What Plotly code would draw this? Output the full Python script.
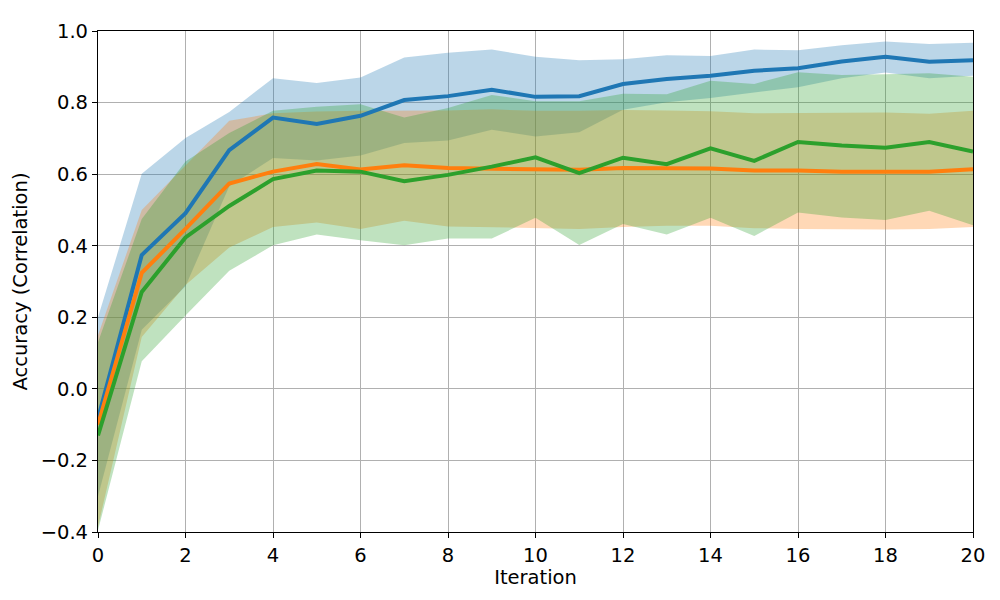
import plotly.graph_objects as go

iterations = list(range(21))

blue_mean = [-0.083, 0.374, 0.491, 0.667, 0.758, 0.740, 0.763, 0.807, 0.818, 0.836, 0.816,
             0.818, 0.852, 0.866, 0.875, 0.889, 0.896, 0.915, 0.928, 0.914, 0.918]
blue_upper = [0.20, 0.601, 0.701, 0.774, 0.868, 0.855, 0.870, 0.926, 0.939, 0.948, 0.928,
              0.918, 0.921, 0.932, 0.930, 0.948, 0.946, 0.960, 0.971, 0.964, 0.967]
blue_lower = [-0.30, 0.165, 0.287, 0.566, 0.645, 0.638, 0.652, 0.687, 0.694, 0.724, 0.705,
              0.717, 0.780, 0.801, 0.813, 0.828, 0.843, 0.868, 0.884, 0.868, 0.875]

orange_mean = [-0.100, 0.324, 0.447, 0.574, 0.607, 0.628, 0.613, 0.625, 0.617, 0.615, 0.614,
               0.612, 0.617, 0.617, 0.616, 0.610, 0.610, 0.607, 0.607, 0.607, 0.614]
orange_upper = [0.15, 0.500, 0.624, 0.749, 0.770, 0.775, 0.777, 0.777, 0.778, 0.781, 0.777,
                0.777, 0.779, 0.778, 0.776, 0.770, 0.771, 0.771, 0.772, 0.769, 0.777]
orange_lower = [-0.385, 0.145, 0.290, 0.395, 0.452, 0.465, 0.447, 0.470, 0.454, 0.452, 0.449,
                0.447, 0.452, 0.456, 0.456, 0.449, 0.447, 0.446, 0.445, 0.447, 0.452]

green_mean = [-0.130, 0.271, 0.423, 0.511, 0.586, 0.610, 0.607, 0.580, 0.598, 0.621, 0.647,
              0.603, 0.646, 0.628, 0.672, 0.637, 0.690, 0.680, 0.674, 0.690, 0.663]
green_upper = [0.13, 0.475, 0.635, 0.715, 0.777, 0.788, 0.795, 0.758, 0.785, 0.821, 0.804,
               0.804, 0.825, 0.823, 0.861, 0.852, 0.885, 0.877, 0.879, 0.882, 0.872]
green_lower = [-0.395, 0.077, 0.205, 0.330, 0.401, 0.431, 0.415, 0.401, 0.420, 0.420, 0.478,
               0.402, 0.461, 0.431, 0.478, 0.427, 0.493, 0.479, 0.472, 0.498, 0.457]

series = [
    ("blue", "#1f77b4", "rgba(31,119,180,0.3)", blue_mean, blue_upper, blue_lower),
    ("orange", "#ff7f0e", "rgba(255,127,14,0.3)", orange_mean, orange_upper, orange_lower),
    ("green", "#2ca02c", "rgba(44,160,44,0.3)", green_mean, green_upper, green_lower),
]

fig = go.Figure()

for name, col, fcol, m, up, lo in series:
    fig.add_trace(go.Scatter(x=iterations, y=up, mode="lines", line=dict(width=0),
                             showlegend=False, hoverinfo="skip"))
    fig.add_trace(go.Scatter(x=iterations, y=lo, mode="lines", line=dict(width=0),
                             fill="tonexty", fillcolor=fcol,
                             showlegend=False, hoverinfo="skip"))

for name, col, fcol, m, up, lo in series:
    fig.add_trace(go.Scatter(x=iterations, y=m, mode="lines",
                             line=dict(color=col, width=4),
                             showlegend=False))

font = dict(family="DejaVu Sans", size=19.5, color="black")

fig.update_layout(
    width=1000, height=600,
    margin=dict(l=89, r=35, t=14, b=76),
    plot_bgcolor="white", paper_bgcolor="white",
    font=font,
    showlegend=False,
)
fig.update_xaxes(
    range=[0, 20], tick0=0, dtick=2,
    showgrid=True, gridcolor="#b0b0b0", gridwidth=1,
    showline=True, linecolor="black", linewidth=1.2, mirror=True,
    ticks="outside", ticklen=5, tickcolor="black", tickwidth=1.2,
    zeroline=False,
    title=dict(text="Iteration", font=font, standoff=4),
    tickfont=font,
)
fig.update_yaxes(
    range=[-0.4, 1.0], tick0=-0.4, dtick=0.2, tickformat=".1f",
    showgrid=True, gridcolor="#b0b0b0", gridwidth=1,
    showline=True, linecolor="black", linewidth=1.2, mirror=True,
    ticks="outside", ticklen=5, tickcolor="black", tickwidth=1.2,
    zeroline=False,
    title=dict(text="Accuracy (Correlation)", font=font, standoff=7),
    tickfont=font,
)

fig.write_html("out.html")
